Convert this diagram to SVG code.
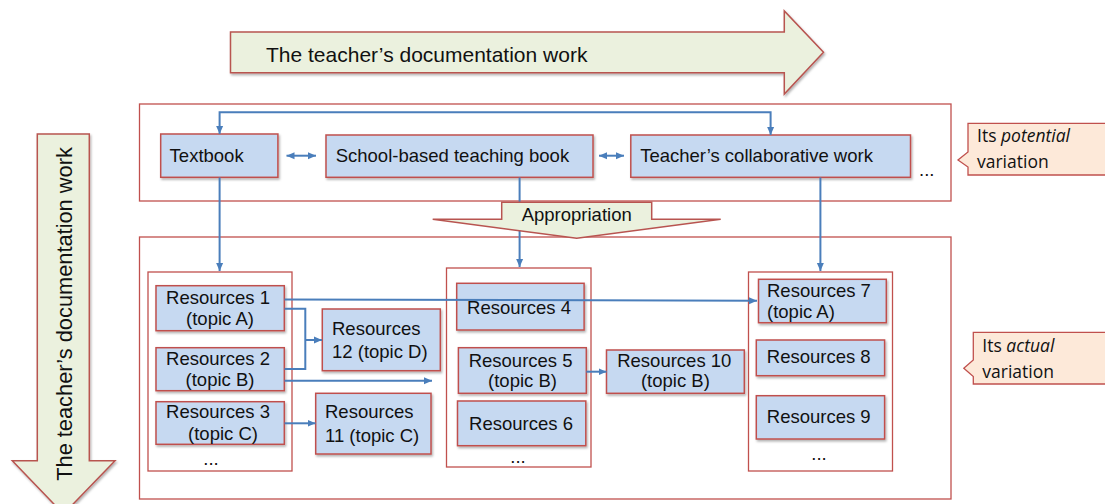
<svg xmlns="http://www.w3.org/2000/svg" width="1105" height="504" viewBox="0 0 1105 504">
<defs>
<style>
.grp{fill:#ffffff;stroke:#c0504d;stroke-width:1.3}
.box{fill:#c6d9f1;stroke:#c0504d;stroke-width:1.5;filter:url(#sh)}
.big{fill:#ebf1de;stroke:#b85450;stroke-width:1.5;filter:url(#sh)}
.call{fill:#fde9d9;stroke:#c0504d;stroke-width:1.3}
.t{font-family:"Liberation Sans",Arial,sans-serif;font-size:18.5px;fill:#111}
.tc{font-family:"Liberation Sans",Arial,sans-serif;font-size:18.5px;fill:#111;text-anchor:middle}
.tb{font-family:"Liberation Sans",Arial,sans-serif;font-size:21px;fill:#111}
.co{font-family:"Open Sans","Noto Sans",sans-serif;font-size:17.5px;fill:#111}
.c{fill:none;stroke:#4a7ebb;stroke-width:2}
.ah{marker-end:url(#a)}
.ah2{marker-end:url(#a);marker-start:url(#a)}
</style>
<marker id="a" markerUnits="userSpaceOnUse" markerWidth="9" markerHeight="8" refX="8" refY="4" orient="auto-start-reverse"><path d="M0,0.5 L8,4 L0,7.5 z" fill="#4a7ebb"/></marker>
<filter id="sh" x="-10%" y="-10%" width="130%" height="140%"><feDropShadow dx="1.2" dy="1.8" stdDeviation="1" flood-color="#000" flood-opacity="0.3"/></filter>
</defs>

<g id="arrow-horizontal">
<polygon class="big" points="230.5,32 784.3,32 784.3,11 823.5,52.3 784.3,94 784.3,72.7 230.5,72.7"/>
<text class="tb" x="266" y="61.7">The teacher’s documentation work</text>
</g>

<g id="arrow-vertical">
<polygon class="big" points="37.3,134 89.3,134 89.3,460.7 115,460.7 63.5,514 12.3,460.7 37.3,460.7"/>
<text class="tb" style="font-size:21.8px" text-anchor="middle" transform="translate(72,314) rotate(-90)">The teacher’s documentation work</text>
</g>

<g id="potential-frame"><rect class="grp" x="139.5" y="104" width="811.5" height="97"/></g>
<g id="actual-frame"><rect class="grp" x="139.5" y="237" width="811.5" height="262"/></g>

<g id="group1"><rect class="grp" x="148" y="272" width="144" height="199"/><text class="tc" x="211" y="465">...</text></g>
<g id="group2"><rect class="grp" x="446.5" y="268" width="144.5" height="199"/><text class="tc" x="518" y="463">...</text></g>
<g id="group3"><rect class="grp" x="748.5" y="272" width="144" height="199"/><text class="tc" x="819" y="460">...</text></g>

<g id="textbook"><rect class="box" x="160.7" y="134" width="117.2" height="43.3"/><text class="t" x="169.6" y="162.3">Textbook</text></g>
<g id="school-book"><rect class="box" x="326" y="135" width="267" height="42.3"/><text class="t" x="335.7" y="162.3">School-based teaching book</text></g>
<g id="collab-work"><rect class="box" x="630.8" y="135" width="279.7" height="42.3"/><text class="t" x="640.2" y="162.3">Teacher’s collaborative work</text></g>
<g id="dots-top"><text class="t" x="919" y="176">...</text></g>

<g id="res1"><rect class="box" x="156" y="285.7" width="128.3" height="45"/><text class="tc"><tspan x="218" y="304">Resources 1</tspan><tspan x="220" y="325">(topic A)</tspan></text></g>
<g id="res2"><rect class="box" x="156" y="347.7" width="128.3" height="43"/><text class="tc"><tspan x="218" y="365">Resources 2</tspan><tspan x="220" y="386">(topic B)</tspan></text></g>
<g id="res3"><rect class="box" x="156" y="401.7" width="128.3" height="42.6"/><text class="tc"><tspan x="218" y="418.3">Resources 3</tspan><tspan x="223" y="439.5">(topic C)</tspan></text></g>
<g id="res12"><rect class="box" x="322.3" y="309" width="118" height="61.7"/><text class="t"><tspan x="332" y="335">Resources</tspan><tspan x="332" y="358.3">12 (topic D)</tspan></text></g>
<g id="res11"><rect class="box" x="315.7" y="393.3" width="115.3" height="60.7"/><text class="t"><tspan x="325" y="418.3">Resources</tspan><tspan x="325" y="441.7">11 (topic C)</tspan></text></g>

<g id="res4"><rect class="box" x="456.7" y="283.3" width="127.4" height="46.7"/><text class="tc" x="519" y="314">Resources 4</text></g>
<g id="res5"><rect class="box" x="458.4" y="347.7" width="127.9" height="45.6"/><text class="tc"><tspan x="520.6" y="366.7">Resources 5</tspan><tspan x="522.5" y="387">(topic B)</tspan></text></g>
<g id="res6"><rect class="box" x="457.5" y="401" width="128.3" height="44.7"/><text class="tc" x="521" y="430">Resources 6</text></g>
<g id="res10"><rect class="box" x="606.5" y="350" width="137.8" height="43.3"/><text class="tc"><tspan x="674.3" y="366.7">Resources 10</tspan><tspan x="675.4" y="387">(topic B)</tspan></text></g>

<g id="res7"><rect class="box" x="758.5" y="279.3" width="127.8" height="43.4"/><text class="t"><tspan x="767" y="297">Resources 7</tspan><tspan x="767" y="318.3">(topic A)</tspan></text></g>
<g id="res8"><rect class="box" x="756.3" y="340" width="128.3" height="35.7"/><text class="tc" x="818.7" y="363.3">Resources 8</text></g>
<g id="res9"><rect class="box" x="756.3" y="395.7" width="128.3" height="43.3"/><text class="tc" x="818.7" y="423.3">Resources 9</text></g>

<g id="connectors">
<path class="c ah2" d="M219.6,134 V112.3 H770.6 V135"/>
<path class="c ah2" d="M286.5,155.7 H316"/>
<path class="c ah2" d="M599,155.7 H624"/>
<path class="c ah" d="M219.6,177.5 V271"/>
<path class="c ah" d="M519.6,177.5 V267"/>
<path class="c ah" d="M820.4,177.5 V271"/>
<path class="c ah" d="M284.5,299.5 L757,300.7"/>
<path class="c" d="M284.5,308.7 H305.3 V369 H284.5"/>
<path class="c ah" d="M305.3,340 H322"/>
<path class="c ah" d="M284.5,380.7 H432"/>
<path class="c ah" d="M284.5,423.3 H315.5"/>
<path class="c ah" d="M586.3,371.7 H606.5"/>
</g>

<g id="appropriation">
<polygon class="big" style="filter:none" points="501.7,202.3 651.7,202.3 651.7,219.3 720.7,219.3 576.7,238.3 432.7,219.3 501.7,219.3"/>
<text class="tc" x="576.7" y="221">Appropriation</text>
</g>

<g id="callout-potential">
<polygon class="call" points="968,123.3 1110,123.3 1110,175 968,175 968,167 958,160 968,152"/>
<text class="co"><tspan x="977" y="141.7">Its <tspan font-style="italic">potential</tspan></tspan><tspan x="977" y="168.3">variation</tspan></text>
</g>

<g id="callout-actual">
<polygon class="call" points="973.3,332.3 1110,332.3 1110,384 973.3,384 973.3,376.5 963.8,368.3 973.3,360"/>
<text class="co"><tspan x="982.3" y="351.7">Its <tspan font-style="italic">actual</tspan></tspan><tspan x="982.3" y="378.3">variation</tspan></text>
</g>
</svg>
